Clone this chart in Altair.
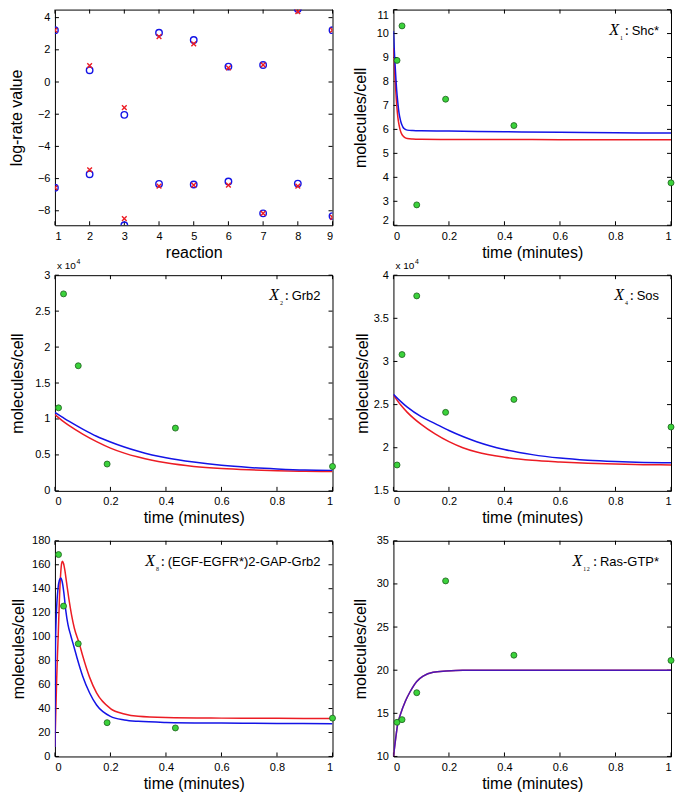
import altair as alt
import pandas as pd

# ---------------- data ----------------
REACTIONS = [1, 2, 3, 4, 5, 6, 7, 8, 9]
EST_UPPER = [3.22, 0.73, -2.04, 3.06, 2.61, 0.96, 1.06, 4.53, 3.22]
EST_LOWER = [-6.57, -5.73, -8.90, -6.33, -6.37, -6.18, -8.16, -6.31, -8.33]
TRUE_UPPER = [3.22, 1.02, -1.59, 2.82, 2.37, 0.88, 1.06, 4.37, 3.22]
TRUE_LOWER = [-6.57, -5.45, -8.49, -6.47, -6.41, -6.41, -8.16, -6.47, -8.41]

T_OBS = [0.013, 0.031, 0.084, 0.188, 0.434, 1.0]

SHC_OBS = [8.88, 10.32, 2.85, 7.26, 6.16, 3.77]
SHC_T = [0, 0.004, 0.008, 0.012, 0.016, 0.02, 0.025, 0.03, 0.035, 0.04, 0.05, 0.07, 0.1, 0.2, 0.4, 0.6, 0.8, 1.0]
SHC_BLUE = [10.1, 9.1, 8.3, 7.6, 7.1, 6.7, 6.4, 6.2, 6.08, 6.02, 5.97, 5.95, 5.94, 5.93, 5.9, 5.88, 5.86, 5.85]
SHC_RED = [9.4, 8.5, 7.7, 7.0, 6.5, 6.2, 5.95, 5.8, 5.72, 5.67, 5.62, 5.6, 5.59, 5.58, 5.58, 5.57, 5.57, 5.57]

GRB_OBS = [1.155, 2.74, 1.74, 0.373, 0.873, 0.34]
GRB_T = [0, 0.025, 0.05, 0.1, 0.15, 0.2, 0.25, 0.3, 0.35, 0.4, 0.5, 0.6, 0.7, 0.8, 0.9, 1.0]
GRB_BLUE = [1.09, 1.03, 0.97, 0.86, 0.76, 0.68, 0.61, 0.55, 0.50, 0.46, 0.40, 0.355, 0.325, 0.305, 0.29, 0.285]
GRB_RED = [1.06, 0.98, 0.91, 0.79, 0.685, 0.595, 0.525, 0.47, 0.425, 0.39, 0.34, 0.31, 0.292, 0.28, 0.273, 0.27]

SOS_OBS = [1.80, 3.08, 3.76, 2.41, 2.56, 2.24]
SOS_T = [0, 0.025, 0.05, 0.1, 0.15, 0.2, 0.25, 0.3, 0.4, 0.5, 0.6, 0.7, 0.8, 0.9, 1.0]
SOS_BLUE = [2.62, 2.54, 2.47, 2.36, 2.28, 2.20, 2.13, 2.07, 1.98, 1.92, 1.88, 1.855, 1.84, 1.83, 1.825]
SOS_RED = [2.61, 2.50, 2.41, 2.27, 2.16, 2.07, 2.00, 1.95, 1.89, 1.855, 1.835, 1.82, 1.81, 1.804, 1.80]

X8_OBS = [168.5, 125.5, 94.1, 28.2, 23.8, 32.0]
X8_T_BLUE = [0, 0.001, 0.002, 0.004, 0.007, 0.011, 0.016, 0.021, 0.026, 0.032, 0.039, 0.047,
             0.057, 0.068, 0.08, 0.1, 0.125, 0.15, 0.2, 0.25, 0.3, 0.4, 0.6, 0.8, 1.0]
X8_BLUE = [8, 60, 90, 112, 128, 140, 147, 149, 146, 137, 122, 110,
           101, 92, 82, 67, 53, 43, 33.5, 30.5, 29.3, 28.4, 27.9, 27.6, 27.4]
X8_T_RED = [0, 0.003, 0.006, 0.009, 0.012, 0.016, 0.02, 0.024, 0.027, 0.031, 0.036, 0.042, 0.05,
            0.06, 0.07, 0.088, 0.1, 0.125, 0.15, 0.2, 0.25, 0.3, 0.4, 0.6, 0.8, 1.0]
X8_RED = [8, 35, 62, 84, 102, 130, 150, 161, 163, 161, 155, 145, 132,
          118, 107, 94, 84, 66, 53, 40, 35.5, 33.5, 32.5, 32, 31.8, 31.7]

RAS_OBS = [13.96, 14.27, 17.39, 30.35, 21.74, 21.13]
RAS_T = [0, 0.007, 0.015, 0.025, 0.043, 0.06, 0.084, 0.107, 0.143, 0.19, 0.25, 0.4, 0.7, 1.0]
RAS_BLUE = [10, 11.8, 13.7, 14.85, 16.4, 17.5, 18.7, 19.3, 19.75, 19.9, 20.0, 20.0, 20.0, 20.0]
RAS_RED = [10, 11.8, 13.7, 14.85, 16.4, 17.5, 18.7, 19.3, 19.75, 19.9, 20.0, 20.0, 20.0, 20.0]

TIME_TICKS = [0, 0.2, 0.4, 0.6, 0.8, 1.0]

# ---------------- style / layout ----------------
W, H = 278, 216
TICK = 4
BLUE = "#1414e6"
RED = "#ec1c24"
GREEN = "#3bd23b"
GREEN_EDGE = "#1d5e1d"
SANS = "Liberation Sans"
SERIF = "Liberation Serif"


def xenc(dom, vals, title):
    return alt.X("x:Q", scale=alt.Scale(domain=dom, nice=False, zero=False),
                 axis=alt.Axis(values=vals, format="~r", title=title,
                               titleY=19, titleBaseline="top"))


def yenc(dom, vals, title, tx, flush=False):
    kw = dict(values=vals, format="~r", title=title, titleX=tx,
              titleBaseline="bottom", titleAngle=270)
    if flush:
        kw["labelFlush"] = True
    return alt.Y("y:Q", scale=alt.Scale(domain=dom, nice=False, zero=False),
                 axis=alt.Axis(**kw))


def ticks(X, Y, xvals, yvals):
    dx = pd.DataFrame({"x": xvals})
    dy = pd.DataFrame({"y": yvals})
    r = dict(color="black", strokeWidth=1)
    return [
        alt.Chart(dx).mark_rule(**r).encode(x=X, y=alt.value(H), y2=alt.value(H - TICK)),
        alt.Chart(dx).mark_rule(**r).encode(x=X, y=alt.value(0), y2=alt.value(TICK)),
        alt.Chart(dy).mark_rule(**r).encode(y=Y, x=alt.value(0), x2=alt.value(TICK)),
        alt.Chart(dy).mark_rule(**r).encode(y=Y, x=alt.value(W - TICK), x2=alt.value(W)),
    ]


def text(t, x, y, size, font=SANS, style="normal", align="left"):
    return alt.Chart(pd.DataFrame({"k": [0]})).mark_text(
        align=align, baseline="alphabetic", font=font, fontSize=size,
        fontStyle=style, color="black").encode(
        x=alt.value(x), y=alt.value(y), text=alt.value(t))


def label(sub, name, name_w):
    end = W - 12
    sans_x = end - name_w
    colon_x = sans_x - 7
    sub_x = colon_x - 5 * len(sub)
    x_x = sub_x - 10.5
    return [
        text("X", x_x, 25, 16, SERIF, "italic"),
        text(sub, sub_x, 28, 10, SERIF),
        text(":", colon_x, 25, 15, SERIF),
        text(name, sans_x, 25, 13, SANS),
    ]


def exponent():
    return [text("x 10", 2, -6, 10), text("4", 21.5, -11, 7)]


def line(X, Y, ts, vs, color, opacity=1.0):
    return alt.Chart(pd.DataFrame({"x": ts, "y": vs})).mark_line(
        color=color, strokeWidth=1.5, clip=True, interpolate="monotone",
        opacity=opacity).encode(x=X, y=Y)


def obs(X, Y, vals):
    return alt.Chart(pd.DataFrame({"x": T_OBS, "y": vals})).mark_point(
        shape="circle", filled=True, fill=GREEN, stroke=GREEN_EDGE, strokeWidth=0.8,
        size=36, opacity=1).encode(x=X, y=Y)


# ---- panel 1: log-rate values ----
X1 = xenc([1, 9], REACTIONS, "reaction")
Y1 = yenc([-8.9, 4.5], [-8, -6, -4, -2, 0, 2, 4], "log-rate value", -30)
est = pd.DataFrame({"x": REACTIONS + REACTIONS, "y": EST_UPPER + EST_LOWER})
tru = pd.DataFrame({"x": REACTIONS + REACTIONS, "y": TRUE_UPPER + TRUE_LOWER})
p1 = alt.layer(
    *ticks(X1, Y1, REACTIONS, [-8, -6, -4, -2, 0, 2, 4]),
    alt.Chart(est).mark_point(shape="circle", filled=False, color=BLUE, strokeWidth=1.4,
                              size=42, clip=True, opacity=1).encode(x=X1, y=Y1),
    alt.Chart(tru).mark_point(shape="M-1,-1L1,1M-1,1L1,-1", filled=False, color=RED,
                              strokeWidth=1.4, size=22, clip=True, opacity=1).encode(x=X1, y=Y1),
).properties(width=W, height=H)


def time_panel(ydom, yvals, tx, t_b, v_b, t_r, v_r, o, lab, expo=False, flush=False, blue_op=1.0):
    X = xenc([0, 1], TIME_TICKS, "time (minutes)")
    Y = yenc(ydom, yvals, "molecules/cell", tx, flush)
    layers = ticks(X, Y, TIME_TICKS, yvals)
    layers += [line(X, Y, t_r, v_r, RED), line(X, Y, t_b, v_b, BLUE, blue_op), obs(X, Y, o)]
    layers += lab
    if expo:
        layers += exponent()
    return alt.layer(*layers).properties(width=W, height=H)


p2 = time_panel([2, 11], list(range(2, 12)), -25, SHC_T, SHC_BLUE, SHC_T, SHC_RED, SHC_OBS,
                label("\u2081", "Shc*", 27.4), flush=True)
p3 = time_panel([0, 3], [0, 0.5, 1, 1.5, 2, 2.5, 3], -29, GRB_T, GRB_BLUE, GRB_T, GRB_RED, GRB_OBS,
                label("\u2082", "Grb2", 28.9), expo=True)
p4 = time_panel([1.5, 4], [1.5, 2, 2.5, 3, 3.5, 4], -23, SOS_T, SOS_BLUE, SOS_T, SOS_RED, SOS_OBS,
                label("\u2084", "Sos", 22.4), expo=True)
p5 = time_panel([0, 180], list(range(0, 181, 20)), -28, X8_T_BLUE, X8_BLUE, X8_T_RED, X8_RED, X8_OBS,
                label("\u2088", "(EGF-EGFR*)2-GAP-Grb2", 153.1))
p6 = time_panel([10, 35], [10, 15, 20, 25, 30, 35], -25, RAS_T, RAS_BLUE, RAS_T, RAS_RED, RAS_OBS,
                label("\u2081\u2082", "Ras-GTP*", 59.2), blue_op=0.75)

chart = alt.concat(
    p1, p2, p3, p4, p5, p6, columns=2,
    spacing={"row": 50, "column": 61}, bounds="flush",
).properties(
    padding=0, background="white"
).configure_view(
    stroke="black", strokeWidth=1
).configure_axis(
    ticks=False, tickSize=0, domain=False, grid=False,
    labelFont=SANS, labelFontSize=11, labelColor="black", labelPadding=5,
    titleFont=SANS, titleFontSize=16, titleFontWeight="normal", titleColor="black",
)

chart.save("out.html", embed_options={"renderer": "svg", "actions": False})
